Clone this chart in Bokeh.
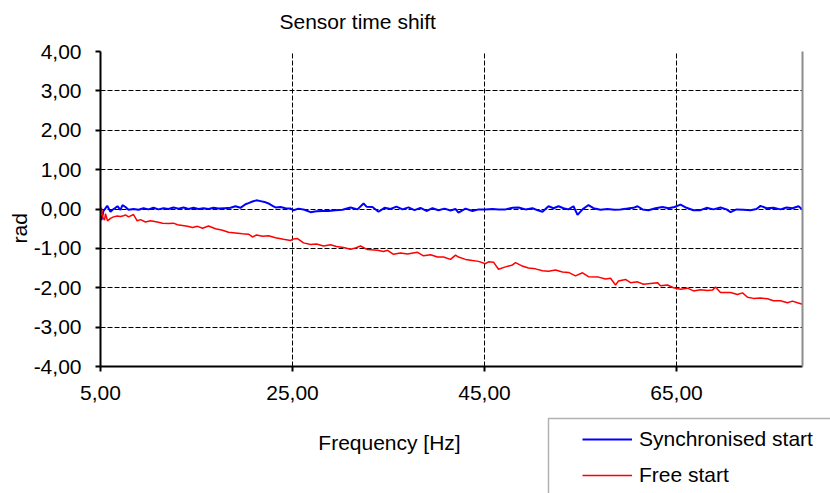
from bokeh.plotting import figure
from bokeh.layouts import column
from bokeh.embed import file_html
from bokeh.resources import INLINE
from bokeh.models import (Legend, LegendItem, Label, BoxAnnotation, FixedTicker,
                          LinearAxis, Range1d, Title)

# ---------------- data ----------------
title_text = "Sensor time shift"
x_label = "Frequency [Hz]"
y_label = "rad"
series_names = ["Synchronised start", "Free start"]

x_ticks = [5, 25, 45, 65]
x_tick_labels = ["5,00", "25,00", "45,00", "65,00"]
y_ticks = [-4, -3, -2, -1, 0, 1, 2, 3, 4]
y_tick_labels = ["-4,00", "-3,00", "-2,00", "-1,00", "0,00", "1,00", "2,00", "3,00", "4,00"]

freq_sync = [5.00, 5.10, 5.31, 5.70, 6.04, 6.25, 6.56, 6.77, 7.08, 7.29, 7.60, 7.92, 8.44, 8.96,
             9.48, 10.00, 10.52, 11.04, 11.56, 12.08, 12.60, 13.13, 13.65, 14.17, 14.69, 15.21,
             15.73, 16.25, 16.77, 17.29, 17.92, 18.54, 19.06, 19.58, 20.10, 20.42, 20.83, 21.25,
             21.67, 22.08, 22.50, 22.92, 23.23, 23.75, 24.27, 24.79, 25.10, 25.63, 26.25, 26.88,
             27.50, 28.13, 28.75, 29.48, 30.21, 31.04, 31.77, 32.40, 32.71, 33.33, 33.96, 34.58,
             35.21, 35.83, 36.46, 37.08, 37.71, 38.33, 38.96, 39.58, 40.21, 40.83, 41.46, 41.98,
             42.29, 43.02, 43.75, 44.38, 45.10, 45.83, 46.46, 47.19, 47.92, 48.54, 49.27, 50.00,
             50.63, 51.04, 51.67, 52.19, 52.71, 53.23, 53.75, 54.27, 54.69, 55.21, 55.83, 56.35,
             57.08, 57.81, 58.54, 59.17, 59.90, 60.52, 60.94, 61.46, 62.08, 62.81, 63.54, 64.17,
             64.79, 65.42, 66.04, 66.77, 67.50, 68.13, 68.85, 69.58, 70.21, 70.63, 71.25, 71.98,
             72.71, 73.33, 73.75, 74.38, 75.10, 75.83, 76.46, 77.08, 77.71, 78.13]
sync_start = [-0.18, -0.28, -0.05, 0.08, -0.07, -0.02, 0.03, 0.07, -0.02, 0.10, 0.05, -0.02, 0.00,
              -0.02, 0.02, -0.01, 0.03, -0.01, 0.02, 0.00, 0.04, 0.01, 0.04, 0.00, 0.03, 0.00,
              0.02, 0.00, 0.03, 0.01, 0.02, 0.03, 0.07, 0.03, 0.12, 0.15, 0.19, 0.22, 0.20, 0.18,
              0.14, 0.08, 0.04, 0.05, 0.02, 0.01, -0.03, 0.01, -0.02, -0.08, -0.06, -0.05, -0.05,
              -0.03, -0.02, 0.04, -0.01, 0.14, 0.06, 0.05, -0.07, 0.03, 0.00, 0.06, -0.01, 0.04,
              -0.03, 0.03, -0.05, 0.02, -0.03, 0.01, -0.04, 0.00, -0.09, 0.01, -0.05, -0.01, -0.01,
              0.00, -0.01, -0.01, 0.03, 0.04, -0.01, 0.02, -0.04, -0.07, 0.07, 0.02, 0.07, 0.02,
              -0.01, 0.07, -0.15, -0.01, 0.10, 0.02, -0.02, 0.00, -0.02, -0.01, 0.01, 0.03, 0.07,
              -0.01, -0.03, 0.02, 0.05, 0.02, 0.05, 0.11, 0.03, -0.03, -0.03, 0.03, -0.01, 0.04,
              -0.01, -0.08, -0.01, -0.02, -0.03, 0.00, 0.08, 0.02, 0.03, -0.01, 0.04, 0.02, 0.07,
              -0.02]

freq_free = [5.00, 5.10, 5.21, 5.42, 5.52, 5.73, 6.04, 6.35, 6.74, 7.08, 7.40, 7.60, 7.92, 8.44,
             8.82, 9.17, 9.69, 10.21, 10.91, 11.46, 12.08, 12.60, 13.02, 13.54, 14.06, 14.58,
             15.10, 15.63, 16.25, 16.98, 17.71, 18.33, 19.06, 19.79, 20.42, 20.83, 21.25, 21.88,
             22.50, 23.23, 24.06, 24.79, 25.10, 25.52, 26.15, 26.88, 27.50, 28.23, 28.96, 29.58,
             30.31, 31.04, 31.56, 32.08, 32.81, 33.85, 34.48, 34.90, 35.52, 36.25, 36.98, 37.71,
             38.02, 38.65, 39.38, 40.10, 40.73, 41.46, 41.98, 42.29, 43.02, 43.75, 44.38, 45.10,
             45.42, 45.94, 46.46, 47.19, 47.92, 48.23, 48.85, 49.58, 50.31, 51.04, 51.67, 52.40,
             53.13, 53.75, 54.48, 55.21, 55.83, 56.88, 57.60, 58.13, 58.65, 58.96, 59.69, 60.21,
             60.94, 61.56, 62.29, 63.02, 63.33, 64.06, 64.69, 65.42, 66.15, 66.77, 67.50, 68.23,
             68.75, 69.06, 69.58, 70.63, 71.35, 71.88, 72.40, 73.02, 73.75, 74.48, 75.10, 75.83,
             76.56, 77.08, 77.60, 78.13]
free_start = [0.00, 0.03, -0.20, -0.28, -0.12, -0.30, -0.24, -0.20, -0.18, -0.19, -0.17, -0.15,
              -0.20, -0.14, -0.30, -0.27, -0.33, -0.30, -0.33, -0.36, -0.37, -0.36, -0.40, -0.42,
              -0.44, -0.47, -0.44, -0.49, -0.43, -0.50, -0.54, -0.59, -0.61, -0.63, -0.64, -0.71,
              -0.66, -0.69, -0.68, -0.73, -0.77, -0.80, -0.76, -0.75, -0.86, -0.90, -0.89, -0.94,
              -0.91, -0.95, -0.98, -1.02, -0.99, -0.94, -1.03, -1.05, -1.08, -1.05, -1.15, -1.12,
              -1.14, -1.11, -1.10, -1.19, -1.16, -1.22, -1.22, -1.28, -1.17, -1.22, -1.28, -1.31,
              -1.33, -1.39, -1.34, -1.35, -1.53, -1.47, -1.42, -1.36, -1.44, -1.50, -1.52, -1.57,
              -1.58, -1.55, -1.60, -1.61, -1.70, -1.62, -1.72, -1.73, -1.78, -1.76, -1.93, -1.83,
              -1.79, -1.87, -1.85, -1.91, -1.89, -1.87, -1.95, -1.93, -2.00, -2.04, -2.01, -2.08,
              -2.05, -2.07, -2.06, -1.98, -2.12, -2.12, -2.17, -2.13, -2.24, -2.27, -2.26, -2.28,
              -2.33, -2.33, -2.38, -2.34, -2.38, -2.42]

FONT = "Liberation Sans"
FS = "21px"
BLUE = "#0000FF"
RED = "#FF0000"

# ---------------- main figure ----------------
p = figure(width=830, height=412, output_backend="svg", toolbar_location=None, title=None,
           x_range=Range1d(5, 78.125), y_range=Range1d(-4, 4),
           min_border_left=100, min_border_right=28, min_border_top=51, min_border_bottom=46)
p.outline_line_color = None
p.background_fill_color = "white"
p.border_fill_color = "white"

for ax, ticks, labels in ((p.xaxis[0], x_ticks, x_tick_labels), (p.yaxis[0], y_ticks, y_tick_labels)):
    ax.ticker = FixedTicker(ticks=ticks)
    ax.major_label_overrides = {t: l for t, l in zip(ticks, labels)}
    ax.axis_line_color = "black"
    ax.axis_line_width = 2
    ax.major_tick_line_color = "black"
    ax.major_tick_line_width = 2
    ax.major_tick_out = 5
    ax.major_tick_in = 0
    ax.minor_tick_line_color = None
    ax.major_label_text_font = FONT
    ax.major_label_text_font_size = FS
    ax.major_label_text_color = "black"
p.yaxis[0].major_label_standoff = 14
p.xaxis[0].major_label_standoff = 14

right_ax = LinearAxis(ticker=FixedTicker(ticks=[]), axis_line_color="#8c8c8c", axis_line_width=2,
                      major_tick_line_color=None, minor_tick_line_color=None,
                      major_label_text_font_size="0px")
p.add_layout(right_ax, "right")

p.xgrid.ticker = FixedTicker(ticks=x_ticks[1:])
p.ygrid.ticker = FixedTicker(ticks=y_ticks[1:])
for g in (p.xgrid[0], p.ygrid[0]):
    g.grid_line_color = "black"
    g.grid_line_width = 1
    g.grid_line_dash = "5 2"
    g.grid_line_alpha = 1

p.line(freq_sync, sync_start, line_color=BLUE, line_width=2)
p.line(freq_free, free_start, line_color=RED, line_width=1.5)

# spacer between frame and title, then the title itself
p.add_layout(Title(text=" ", standoff=0, text_font=FONT, text_font_size="16px"), "above")
p.add_layout(Title(text=title_text, align="left", offset=179, standoff=0,
                   text_font=FONT, text_font_size=FS, text_font_style="normal",
                   text_color="black"), "above")
p.add_layout(Title(text=y_label, align="left", offset=123, standoff=0,
                   text_font=FONT, text_font_size=FS, text_font_style="normal",
                   text_color="black"), "left")

# ---------------- lower strip: axis title and legend ----------------
q = figure(width=830, height=81, output_backend="svg", toolbar_location=None, title=None,
           x_axis_location=None, y_axis_location=None, min_border=0,
           x_range=Range1d(0, 1), y_range=Range1d(0, 1))
q.outline_line_color = None
q.xgrid.visible = False
q.ygrid.visible = False
q.background_fill_color = "white"
q.border_fill_color = "white"

for fig in (p, q):
    if "frame_align" in fig.properties():
        fig.frame_align = False

q.add_layout(Label(x=389, y=51, x_units="screen", y_units="screen", text=x_label,
                   text_font=FONT, text_font_size=FS, text_color="black",
                   text_align="center", text_baseline="alphabetic"))

q.add_layout(BoxAnnotation(left=548, right=1200, top=75, bottom=-300,
                           left_units="screen", right_units="screen",
                           top_units="screen", bottom_units="screen",
                           fill_color="white", fill_alpha=1, line_color="black", line_width=1.5))
proxy_sync = q.line([-5, -4], [-5, -5], line_color=BLUE, line_width=2)
proxy_free = q.line([-5, -4], [-6, -6], line_color=RED, line_width=1.5)
legend = Legend(items=[LegendItem(label=series_names[0], renderers=[proxy_sync]),
                       LegendItem(label=series_names[1], renderers=[proxy_free])],
                location=(582, 6), margin=0, padding=10, spacing=12,
                glyph_width=50, glyph_height=24, label_height=24, label_standoff=7,
                border_line_color=None, background_fill_alpha=0,
                label_text_font=FONT, label_text_font_size=FS, label_text_color="black")
q.add_layout(legend, "center")

layout = column(p, q, spacing=0)
open("out.html", "w").write(file_html(layout, INLINE))
